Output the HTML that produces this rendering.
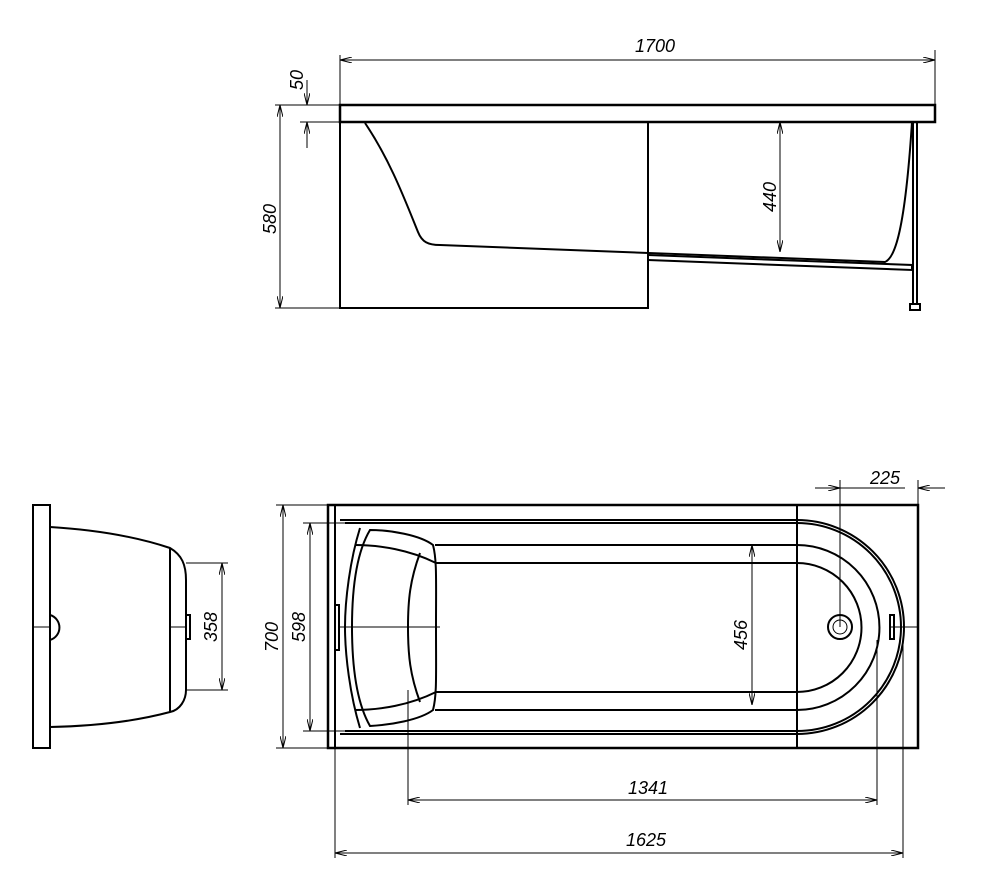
<!DOCTYPE html>
<html><head><style>body{margin:0;background:#fff}svg{display:block}text{font-family:"Liberation Sans",sans-serif;font-style:italic;font-size:18px;fill:#000}</style></head>
<body>
<svg width="983" height="896" viewBox="0 0 983 896" xmlns="http://www.w3.org/2000/svg">
<defs>
<marker id="a" viewBox="0 0 12 6" refX="12" refY="3" markerWidth="12" markerHeight="6" orient="auto-start-reverse" markerUnits="userSpaceOnUse"><path d="M0,0 L12,3 L0,6" fill="none" stroke="#000" stroke-width="1"/></marker>
</defs>
<g fill="none" stroke="#000" stroke-width="1">
<line x1="340" y1="55" x2="340" y2="105"/><line x1="935" y1="50" x2="935" y2="105"/>
<line x1="340" y1="60" x2="935" y2="60" marker-start="url(#a)" marker-end="url(#a)"/>
<line x1="275" y1="105" x2="340" y2="105"/><line x1="275" y1="308" x2="340" y2="308"/>
<line x1="280" y1="105" x2="280" y2="308" marker-start="url(#a)" marker-end="url(#a)"/>
<line x1="300" y1="122" x2="340" y2="122"/>
<line x1="307" y1="80" x2="307" y2="105" marker-end="url(#a)"/>
<line x1="307" y1="148" x2="307" y2="122" marker-end="url(#a)"/>
<line x1="780" y1="122" x2="780" y2="252" marker-start="url(#a)" marker-end="url(#a)"/>
</g>
<g fill="none" stroke="#000" stroke-width="2">
<path d="M340,105 L935,105 L935,122 L340,122 Z" stroke-width="2.5"/>
<path d="M340,122 L340,308 L648,308 L648,122"/>
<path d="M365,123 C390,160 405,200 418,232 C422,242 428,245 440,245 L885,262 C895,258 905,230 912,122"/>
<path d="M648,255 L912,265 L912,270 L648,260"/>
<line x1="913" y1="122" x2="913" y2="305"/><line x1="917" y1="122" x2="917" y2="305"/>
<rect x="910" y="304" width="10" height="6"/>
</g>
<text transform="translate(635,52)">1700</text>
<text transform="translate(303,90) rotate(-90)">50</text>
<text transform="translate(276,234) rotate(-90)">580</text>
<text transform="translate(776,212) rotate(-90)">440</text>

<g fill="none" stroke="#000" stroke-width="2">
<rect x="33" y="505" width="17" height="243"/>
<path d="M50,527 C100,530 140,538 170,548 C182,555 186,565 186,580 L186,690 C186,700 180,710 170,712 C140,720 100,726 50,727"/>
<path d="M170,548 L170,712"/>
<path d="M50,615 A13,13 0 0 1 50,640"/>
<rect x="186" y="615" width="4" height="24"/>
</g>
<g fill="none" stroke="#000" stroke-width="1">
<line x1="33" y1="627" x2="50" y2="627"/><line x1="170" y1="627" x2="186" y2="627"/>
<line x1="186" y1="563" x2="228" y2="563"/><line x1="186" y1="690" x2="228" y2="690"/>
<line x1="222" y1="563" x2="222" y2="690" marker-start="url(#a)" marker-end="url(#a)"/>
</g>
<text transform="translate(217,642) rotate(-90)">358</text>

<g fill="none" stroke="#000" stroke-width="1">
<line x1="276" y1="505" x2="328" y2="505"/><line x1="276" y1="748" x2="328" y2="748"/>
<line x1="283" y1="505" x2="283" y2="748" marker-start="url(#a)" marker-end="url(#a)"/>
<line x1="303" y1="523" x2="345" y2="523"/><line x1="303" y1="731" x2="345" y2="731"/>
<line x1="310" y1="523" x2="310" y2="731" marker-start="url(#a)" marker-end="url(#a)"/>
<line x1="752" y1="545" x2="752" y2="705" marker-start="url(#a)" marker-end="url(#a)"/>
<line x1="840" y1="480" x2="840" y2="627"/><line x1="918" y1="480" x2="918" y2="505"/>
<line x1="815" y1="488" x2="840" y2="488" marker-end="url(#a)"/>
<line x1="945" y1="488" x2="918" y2="488" marker-end="url(#a)"/>
<line x1="840" y1="488" x2="905" y2="488"/>
<line x1="408" y1="690" x2="408" y2="805"/><line x1="877" y1="640" x2="877" y2="805"/>
<line x1="408" y1="800" x2="877" y2="800" marker-start="url(#a)" marker-end="url(#a)"/>
<line x1="335" y1="735" x2="335" y2="858"/><line x1="903" y1="640" x2="903" y2="858"/>
<line x1="335" y1="853" x2="903" y2="853" marker-start="url(#a)" marker-end="url(#a)"/>
<line x1="340" y1="627" x2="440" y2="627"/><line x1="890" y1="627" x2="918" y2="627"/>
</g>
<g fill="none" stroke="#000" stroke-width="2">
<rect x="328" y="505" width="590" height="243" stroke-width="2.5"/>
<line x1="335" y1="505" x2="335" y2="748"/>
<line x1="797" y1="505" x2="797" y2="748"/>
<path d="M340,520 L797,520 A107,107 0 0 1 797,734 L340,734"/>
<path d="M345,523 L797,523 A104,104 0 0 1 797,731 L345,731"/>
<path d="M435,545 L797,545 A82,82 0 0 1 797,710 L435,710"/>
<path d="M435,563 L797,563 A64,64 0 0 1 797,692 L435,692"/>
<path d="M360,528 C350,560 345,600 345,627 C345,655 350,695 360,728"/>
<path d="M370,530 C390,530 420,535 433,545 C437,560 436,580 436,627 C436,675 437,695 433,710 C420,720 390,725 370,726 C355,700 352,660 352,627 C352,595 355,555 370,530Z"/>
<path d="M355,545 C380,545 410,550 436,563"/><path d="M355,710 C380,710 410,705 436,692"/>
<path d="M420,553 C410,580 408,600 408,627 C408,655 410,675 420,702"/>
<rect x="335" y="605" width="4" height="45"/>
<rect x="890" y="615" width="4" height="24"/>
<circle cx="840" cy="627" r="12"/><circle cx="840" cy="627" r="7" stroke-width="1"/>
</g>
<text transform="translate(278,652) rotate(-90)">700</text>
<text transform="translate(305,642) rotate(-90)">598</text>
<text transform="translate(747,650) rotate(-90)">456</text>
<text x="870" y="484">225</text>
<text x="628" y="794">1341</text>
<text x="626" y="846">1625</text>
</svg>
</body></html>
